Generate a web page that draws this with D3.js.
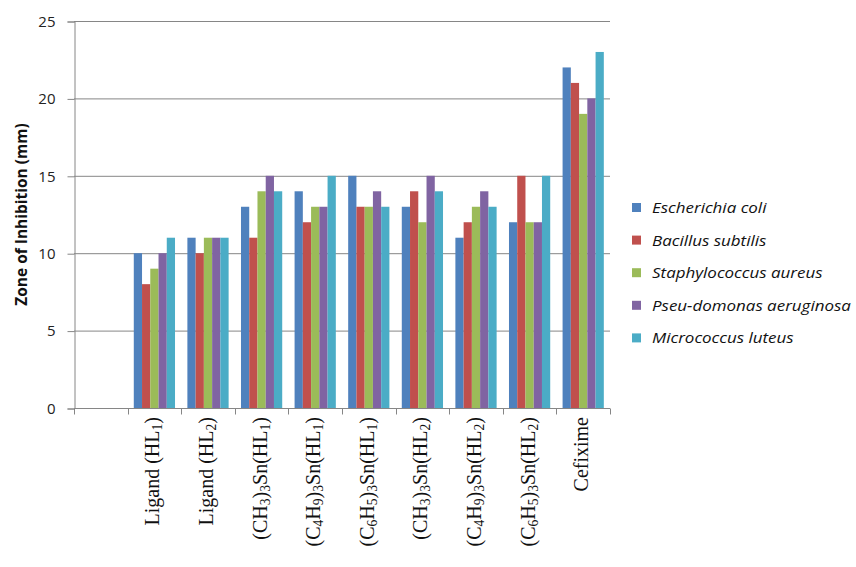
<!DOCTYPE html>
<html>
<head>
<meta charset="utf-8">
<script src="https://cdn.jsdelivr.net/npm/d3@7"></script>
<style>
  html, body { margin: 0; padding: 0; background: #fff; }
  svg { display: block; }
</style>
</head>
<body>
<svg id="chart" width="856" height="567"></svg>
<script>
// Compounds tested (first slot on the axis is left empty)
const categories = ["", "Ligand (HL1)", "Ligand (HL2)", "(CH3)3Sn(HL1)", "(C4H9)3Sn(HL1)",
  "(C6H5)3Sn(HL1)", "(CH3)3Sn(HL2)", "(C4H9)3Sn(HL2)", "(C6H5)3Sn(HL2)", "Cefixime"];

// Label pieces: [text, isSubscript]
const labelParts = [
  [],
  [["Ligand (HL", 0], ["1", 1], [")", 0]],
  [["Ligand (HL", 0], ["2", 1], [")", 0]],
  [["(CH", 0], ["3", 1], [")", 0], ["3", 1], ["Sn(HL", 0], ["1", 1], [")", 0]],
  [["(C", 0], ["4", 1], ["H", 0], ["9", 1], [")", 0], ["3", 1], ["Sn(HL", 0], ["1", 1], [")", 0]],
  [["(C", 0], ["6", 1], ["H", 0], ["5", 1], [")", 0], ["3", 1], ["Sn(HL", 0], ["1", 1], [")", 0]],
  [["(CH", 0], ["3", 1], [")", 0], ["3", 1], ["Sn(HL", 0], ["2", 1], [")", 0]],
  [["(C", 0], ["4", 1], ["H", 0], ["9", 1], [")", 0], ["3", 1], ["Sn(HL", 0], ["2", 1], [")", 0]],
  [["(C", 0], ["6", 1], ["H", 0], ["5", 1], [")", 0], ["3", 1], ["Sn(HL", 0], ["2", 1], [")", 0]],
  [["Cefixime", 0]]
];

const seriesNames = ["Escherichia coli", "Bacillus subtilis", "Staphylococcus aureus",
  "Pseu-domonas aeruginosa", "Micrococcus luteus"];
const seriesColors = ["#4F81BD", "#C0504D", "#9BBB59", "#8064A2", "#4BACC6"];

// Zone of inhibition (mm), one array per organism, aligned with categories
const escherichiaColi    = [null, 10, 11, 13, 14, 15, 13, 11, 12, 22];
const bacillusSubtilis   = [null,  8, 10, 11, 12, 13, 14, 12, 15, 21];
const staphAureus        = [null,  9, 11, 14, 13, 13, 12, 13, 12, 19];
const pseudomonas        = [null, 10, 11, 15, 13, 14, 15, 14, 12, 20];
const micrococcusLuteus  = [null, 11, 11, 14, 15, 13, 14, 13, 15, 23];
const seriesValues = [escherichiaColi, bacillusSubtilis, staphAureus, pseudomonas, micrococcusLuteus];

const yTicks = [0, 5, 10, 15, 20, 25];

const svg = d3.select("#chart");
const plot = { left: 74, right: 610, top: 21, bottom: 408 };
const gridColor = "#868686";

const x = d3.scaleBand().domain(d3.range(categories.length))
  .range([plot.left, plot.right]).paddingInner(0).paddingOuter(0);
const bandW = x.bandwidth();
const gap = bandW * 1.5 / 6.5;           // Excel-style 150% gap width
const xs = d3.scaleBand().domain(d3.range(seriesNames.length))
  .range([gap / 2, bandW - gap / 2]).padding(0);
const y = d3.scaleLinear().domain([0, 25]).range([plot.bottom, plot.top]);

// Horizontal gridlines
svg.append("g").selectAll("line").data(yTicks.filter(d => d > 0)).join("line")
  .attr("x1", plot.left).attr("x2", plot.right)
  .attr("y1", d => y(d) + 0.5).attr("y2", d => y(d) + 0.5)
  .attr("stroke", gridColor).attr("stroke-width", 1);

// Bars
const groups = svg.append("g").selectAll("g").data(categories.map((c, i) => i)).join("g")
  .attr("transform", i => `translate(${x(i)},0)`);
groups.selectAll("rect")
  .data(i => seriesValues.map((arr, s) => ({ s, v: arr[i] })).filter(d => d.v != null))
  .join("rect")
  .attr("x", d => xs(d.s))
  .attr("width", xs.bandwidth())
  .attr("y", d => y(d.v))
  .attr("height", d => y(0) - y(d.v))
  .attr("fill", d => seriesColors[d.s]);

// Y axis
const yAxis = d3.axisLeft(y).tickValues(yTicks).tickSize(7).tickPadding(12);
const yg = svg.append("g").attr("transform", `translate(${plot.left + 0.5},0.5)`).call(yAxis);
yg.select(".domain").attr("stroke", gridColor);
yg.selectAll(".tick line").attr("stroke", gridColor);
yg.selectAll(".tick text").attr("font-family", "'Open Sans', sans-serif")
  .attr("font-size", 15).attr("fill", "#222");

// X axis (ticks between categories)
const xg = svg.append("g").attr("transform", `translate(0,${plot.bottom + 0.5})`);
xg.append("line").attr("x1", plot.left).attr("x2", plot.right).attr("stroke", gridColor);
xg.selectAll("line.tk").data(d3.range(categories.length + 1)).join("line")
  .attr("class", "tk")
  .attr("x1", i => Math.round(plot.left + i * bandW) + 0.5)
  .attr("x2", i => Math.round(plot.left + i * bandW) + 0.5)
  .attr("y1", 0).attr("y2", 6).attr("stroke", gridColor);

// Rotated category labels with subscripts
const fs = 20;
categories.forEach((c, i) => {
  if (!c) return;
  const cx = x(i) + bandW / 2;
  const t = svg.append("text")
    .attr("transform", `translate(${cx + 5},${plot.bottom + 9}) rotate(-90)`)
    .attr("text-anchor", "end")
    .attr("font-family", "'Liberation Serif', 'Times New Roman', serif")
    .attr("font-size", fs).attr("fill", "#111");
  labelParts[i].forEach(([txt, sub]) => {
    const ts = t.append("tspan").text(txt);
    if (sub) ts.attr("font-size", fs * 0.68).attr("baseline-shift", "-22%");
  });
});

// Y axis title
svg.append("text")
  .attr("transform", `translate(27,${(plot.top + plot.bottom) / 2}) rotate(-90)`)
  .attr("text-anchor", "middle")
  .attr("font-family", "'Open Sans', sans-serif").attr("font-weight", "bold")
  .attr("font-size", 15.5).attr("fill", "#111")
  .text("Zone of Inhibition (mm)");

// Legend
const lg = svg.append("g").attr("transform", "translate(632,208)");
const items = lg.selectAll("g").data(seriesNames).join("g")
  .attr("transform", (d, i) => `translate(0,${i * 32.6})`);
items.append("rect").attr("x", 0).attr("y", -5).attr("width", 9).attr("height", 9)
  .attr("fill", (d, i) => seriesColors[i]);
items.append("text").attr("transform", "translate(20,5) scale(1.17,1)")
  .attr("font-family", "'Open Sans', sans-serif").attr("font-style", "italic")
  .attr("font-size", 14.5).attr("fill", "#111")
  .text(d => d);
</script>
</body>
</html>
